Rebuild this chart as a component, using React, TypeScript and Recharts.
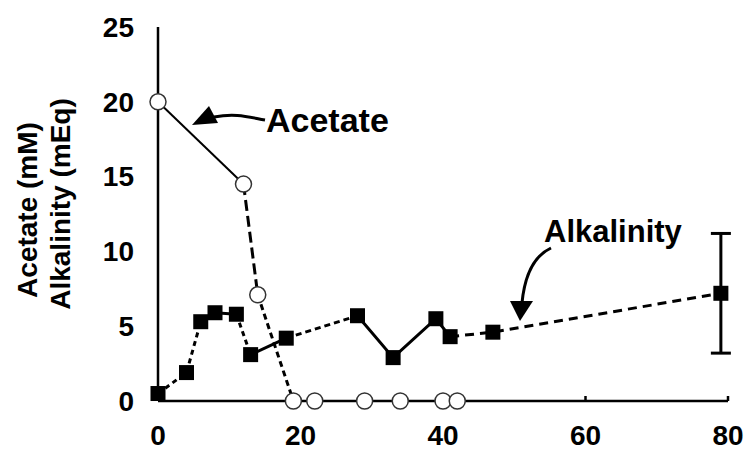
import { ComposedChart, Scatter, XAxis, YAxis, ErrorBar } from 'recharts';

// time (days) and measured values
const acetateTime = [0, 12, 14, 19, 22, 29, 34, 40, 42];
const acetateConc = [20, 14.5, 7.1, 0, 0, 0, 0, 0, 0];

const alkTime = [0, 4, 6, 8, 11, 13, 18, 28, 33, 39, 41, 47, 79];
const alkValue = [0.5, 1.9, 5.3, 5.9, 5.8, 3.1, 4.2, 5.7, 2.9, 5.5, 4.3, 4.6, 7.2];
const alkError = [0, 0, 0, 0, 0, 0, 0, 0, 0, 0, 0, 0, 4];

const xTicks = [0, 20, 40, 60, 80];
const yTicks = [0, 5, 10, 15, 20, 25];

// connecting-line pieces: [from index, to index, dash pattern, width]
const acetateSegments: [number, number, string | undefined, number][] = [
  [0, 1, undefined, 2],
  [1, 2, '11 5', 3],
  [2, 3, '6 4', 3],
  [3, 8, undefined, 2],
];
const alkSegments: [number, number, string | undefined, number][] = [
  [0, 2, '5 4', 3],
  [2, 4, undefined, 3],
  [4, 5, '5 4', 3],
  [5, 6, undefined, 3],
  [6, 7, '6 4', 3],
  [7, 10, undefined, 3],
  [10, 12, '9 6', 3],
];

const acetate = acetateTime.map((x, i) => ({ x, y: acetateConc[i] }));
const alkalinity = alkTime.map((x, i) => ({ x, y: alkValue[i], err: alkError[i] }));

const FONT = '"Liberation Sans", Arial, sans-serif';

const noDot = () => <g />;

const OpenCircle = (p: any) => (
  <circle cx={p.cx} cy={p.cy} r={8} fill="#fff" stroke="#333" strokeWidth={1.5} />
);
const FilledSquare = (p: any) => (
  <rect x={p.cx - 7.5} y={p.cy - 7.5} width={15} height={15} fill="#000" />
);

const XTick = (p: any) => (
  <g>
    {p.payload.value > 40 && (
      <line x1={p.x} x2={p.x} y1={p.y} y2={p.y - 5} stroke="#000" strokeWidth={2.5} />
    )}
    <text x={p.x} y={p.y + 34} dy="0.35em" textAnchor="middle" fontFamily={FONT} fontWeight="bold" fontSize={28} fill="#000">
      {p.payload.value}
    </text>
  </g>
);

const YTick = (p: any) => (
  <text x={p.x - 24} y={p.y} dy="0.35em" textAnchor="end" fontFamily={FONT} fontWeight="bold" fontSize={28} fill="#000">
    {p.payload.value}
  </text>
);

export default function App() {
  return (
    <div style={{ position: 'absolute', left: 0, top: 0, width: 748, height: 451, background: '#fff' }}>
      <ComposedChart width={748} height={451} margin={{ top: 27, right: 20, bottom: 10, left: 98 }}>
        <XAxis
          dataKey="x"
          type="number"
          domain={[0, 80]}
          ticks={xTicks}
          height={40}
          tickSize={0}
          tickMargin={0}
          tickLine={false}
          tick={<XTick />}
          axisLine={{ stroke: '#000', strokeWidth: 2.5 }}
        />
        <YAxis
          type="number"
          domain={[0, 25]}
          ticks={yTicks}
          width={60}
          tickSize={0}
          tickMargin={0}
          tickLine={false}
          tick={<YTick />}
          axisLine={{ stroke: '#000', strokeWidth: 2.5 }}
        />

        {acetateSegments.map(([a, b, dash, w], i) => (
          <Scatter
            key={'ac' + i}
            data={acetate.slice(a, b + 1)}
            dataKey="y"
            fill="#000"
            shape={noDot}
            line={{ stroke: '#000', strokeWidth: w, strokeDasharray: dash }}
            isAnimationActive={false}
          />
        ))}
        {alkSegments.map(([a, b, dash, w], i) => (
          <Scatter
            key={'al' + i}
            data={alkalinity.slice(a, b + 1)}
            dataKey="y"
            fill="#000"
            shape={noDot}
            line={{ stroke: '#000', strokeWidth: w, strokeDasharray: dash }}
            isAnimationActive={false}
          />
        ))}

        <Scatter data={alkalinity.filter((d) => d.err > 0)} dataKey="y" shape={noDot} isAnimationActive={false}>
          <ErrorBar dataKey="err" direction="y" width={10} stroke="#000" strokeWidth={3} />
        </Scatter>
        <Scatter data={alkalinity} dataKey="y" shape={FilledSquare} isAnimationActive={false} />
        <Scatter data={acetate} dataKey="y" shape={OpenCircle} isAnimationActive={false} />
      </ComposedChart>

      <svg width={748} height={451} style={{ position: 'absolute', left: 0, top: 0, pointerEvents: 'none' }}>
        <g fontFamily={FONT} fontWeight="bold" fill="#000">
          <text transform="translate(37,210) rotate(-90)" textAnchor="middle" fontSize={28}>
            Acetate (mM)
          </text>
          <text transform="translate(70,204) rotate(-90)" textAnchor="middle" fontSize={28}>
            Alkalinity (mEq)
          </text>
          <text x={266} y={132} fontSize={34}>Acetate</text>
          <text x={544} y={242} fontSize={31}>Alkalinity</text>
        </g>
        {/* callout arrows */}
        <path d="M265,120 C248,117 236,113 214,117" fill="none" stroke="#000" strokeWidth={3} />
        <polygon points="192,125 209,106 218,123" fill="#000" />
        <path d="M551,248 C536,255 525,272 522,303" fill="none" stroke="#000" strokeWidth={3} />
        <polygon points="510,301 533,301 520,321" fill="#000" />
      </svg>
    </div>
  );
}
